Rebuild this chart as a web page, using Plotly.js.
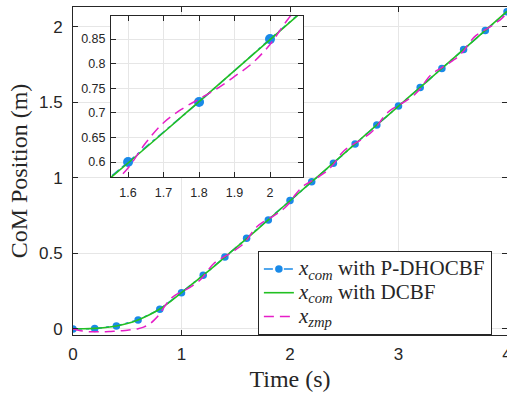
<!DOCTYPE html>
<html>
<head>
<meta charset="utf-8">
<script src="https://cdn.plot.ly/plotly-3.0.1.min.js"></script>
<style>html,body{margin:0;padding:0;background:#fff;}#chart{width:507px;height:399px;}</style>
</head>
<body>
<div id="chart"></div>
<script>
// Time grids
const tDots = [0,0.2,0.4,0.6,0.8,1.0,1.2,1.4,1.6,1.8,2.0,2.2,2.4,2.6,2.8,3.0,3.2,3.4,3.6,3.8,4.0];
// x_com with P-DHOCBF (markers every 0.2 s)
const comPD = [0,0.003,0.02,0.06,0.13,0.24,0.355,0.476,0.6,0.722,0.85,0.975,1.098,1.225,1.351,1.476,1.599,1.724,1.85,1.976,2.1];

const tLine = [0,0.1,0.2,0.3,0.4,0.5,0.6,0.7,0.8,0.9,1.0,1.1,1.2,1.3,1.4,1.5,1.6,1.7,1.8,1.9,2.0,2.1,2.2,2.3,2.4,2.5,2.6,2.7,2.8,2.9,3.0,3.1,3.2,3.3,3.4,3.5,3.6,3.7,3.8,3.9,4.0];
// x_com with DCBF
const comDC = [0,0.001,0.004,0.01,0.02,0.036,0.06,0.092,0.132,0.183,0.24,0.298,0.356,0.415,0.476,0.537,0.598,0.66,0.723,0.786,0.849,0.912,0.975,1.037,1.1,1.162,1.225,1.288,1.351,1.413,1.476,1.538,1.6,1.663,1.726,1.789,1.851,1.914,1.977,2.04,2.103];

const tZmp = [0,0.05,0.1,0.15,0.2,0.25,0.3,0.35,0.4,0.45,0.5,0.55,0.6,0.65,0.7,0.75,0.8,0.85,0.9,0.95,
  1.0,1.05,1.1,1.15,1.2,1.25,1.3,1.35,1.4,1.45,1.5,1.55,1.6,1.65,1.7,1.75,1.8,1.85,1.9,1.95,
  2.0,2.05,2.1,2.15,2.2,2.25,2.3,2.35,2.4,2.45,2.5,2.55,2.6,2.65,2.7,2.75,2.8,2.85,2.9,2.95,
  3.0,3.05,3.1,3.15,3.2,3.25,3.3,3.35,3.4,3.45,3.5,3.55,3.6,3.65,3.7,3.75,3.8,3.85,3.9,3.95,4.0];
// x_zmp
const zmp = [0,-0.008,-0.014,-0.018,-0.019,-0.019,-0.018,-0.016,-0.014,-0.012,-0.009,-0.004,0.002,0.012,0.03,0.06,0.1,0.155,0.2,0.228,
  0.245,0.264,0.286,0.311,0.346,0.395,0.435,0.461,0.481,0.501,0.525,0.551,0.588,0.639,0.68,0.707,0.728,0.749,0.774,0.801,
  0.839,0.89,0.932,0.959,0.98,1.001,1.025,1.052,1.09,1.141,1.182,1.209,1.23,1.251,1.276,1.303,1.341,1.392,1.433,1.46,
  1.481,1.502,1.526,1.553,1.59,1.641,1.683,1.71,1.731,1.752,1.777,1.804,1.841,1.892,1.934,1.961,1.982,2.003,2.028,2.055,2.093];

const names = [
  '<span style="font-size:21px"><i>x</i><sub><i>com</i></sub> with P-DHOCBF</span>',
  '<span style="font-size:21px"><i>x</i><sub><i>com</i></sub> with DCBF</span>',
  '<span style="font-size:21px"><i>x</i><sub><i>zmp</i></sub></span>'
];

const cBlue = '#1a8ae8', cGreen = '#22c022', cMag = '#e61ec8';

function makeTraces(xa, ya, show, msize) {
  return [
    {x: tDots, y: comPD, xaxis: xa, yaxis: ya, name: names[0], showlegend: show,
     mode: 'lines+markers', line: {color: cBlue, width: 1.5, dash: '9px,4px,3px,4px'},
     marker: {color: cBlue, size: msize}},
    {x: tLine, y: comDC, xaxis: xa, yaxis: ya, name: names[1], showlegend: show,
     mode: 'lines', line: {color: cGreen, width: 1.6, shape: 'spline'}},
    {x: tZmp, y: zmp, xaxis: xa, yaxis: ya, name: names[2], showlegend: show,
     mode: 'lines', line: {color: cMag, width: 1.5, dash: '10px,6px', shape: 'spline'}}
  ];
}

const data = makeTraces('x', 'y', true, 7.5).concat(makeTraces('x2', 'y2', false, 10));

const axCommon = {
  showline: true, linecolor: '#262626', linewidth: 1, mirror: 'ticks',
  ticks: 'inside', ticklen: 5, tickcolor: '#262626', tickwidth: 1,
  showgrid: true, gridcolor: '#e6e6e6', gridwidth: 1, zeroline: false
};

const layout = {
  width: 507, height: 399,
  margin: {l: 73, r: 0, t: 7, b: 64},
  paper_bgcolor: '#fff', plot_bgcolor: '#fff',
  showlegend: true,
  xaxis: Object.assign({}, axCommon, {
    domain: [0, 1], range: [0, 4], tick0: 0, dtick: 1, anchor: 'y',
    tickfont: {family: 'Liberation Sans, Arial', size: 17, color: '#262626'},
    ticklabelstandoff: 4, ticklabeloverflow: 'allow',
    title: {text: 'Time (s)', font: {family: 'Liberation Serif, serif', size: 24, color: '#262626'}, standoff: 6}
  }),
  yaxis: Object.assign({}, axCommon, {
    domain: [0, 1], range: [-0.04, 2.132], tick0: 0, dtick: 0.5, anchor: 'x',
    tickfont: {family: 'Liberation Sans, Arial', size: 17, color: '#262626'},
    ticklabelstandoff: 6,
    title: {text: 'CoM Position (m)', font: {family: 'Liberation Serif, serif', size: 24, color: '#262626'}, standoff: 4}
  }),
  xaxis2: Object.assign({}, axCommon, {
    domain: [0.0876, 0.530], range: [1.552, 2.093], tick0: 1.6, dtick: 0.1, anchor: 'y2',
    tickfont: {family: 'Liberation Sans, Arial', size: 12.5, color: '#262626'},
    ticklabelstandoff: 4
  }),
  yaxis2: Object.assign({}, axCommon, {
    domain: [0.4817, 0.9726], range: [0.5695, 0.897], tick0: 0.6, dtick: 0.05, anchor: 'x2',
    tickfont: {family: 'Liberation Sans, Arial', size: 12.5, color: '#262626'},
    ticklabelstandoff: 2
  }),
  legend: {
    x: 0.426, y: 0, xanchor: 'left', yanchor: 'bottom',
    bgcolor: '#fff', bordercolor: '#262626', borderwidth: 1,
    font: {family: 'Liberation Serif, serif', size: 16, color: '#262626'},
    tracegroupgap: 0
  }
};

Plotly.newPlot('chart', data, layout, {displayModeBar: false, staticPlot: true});
</script>
</body>
</html>
